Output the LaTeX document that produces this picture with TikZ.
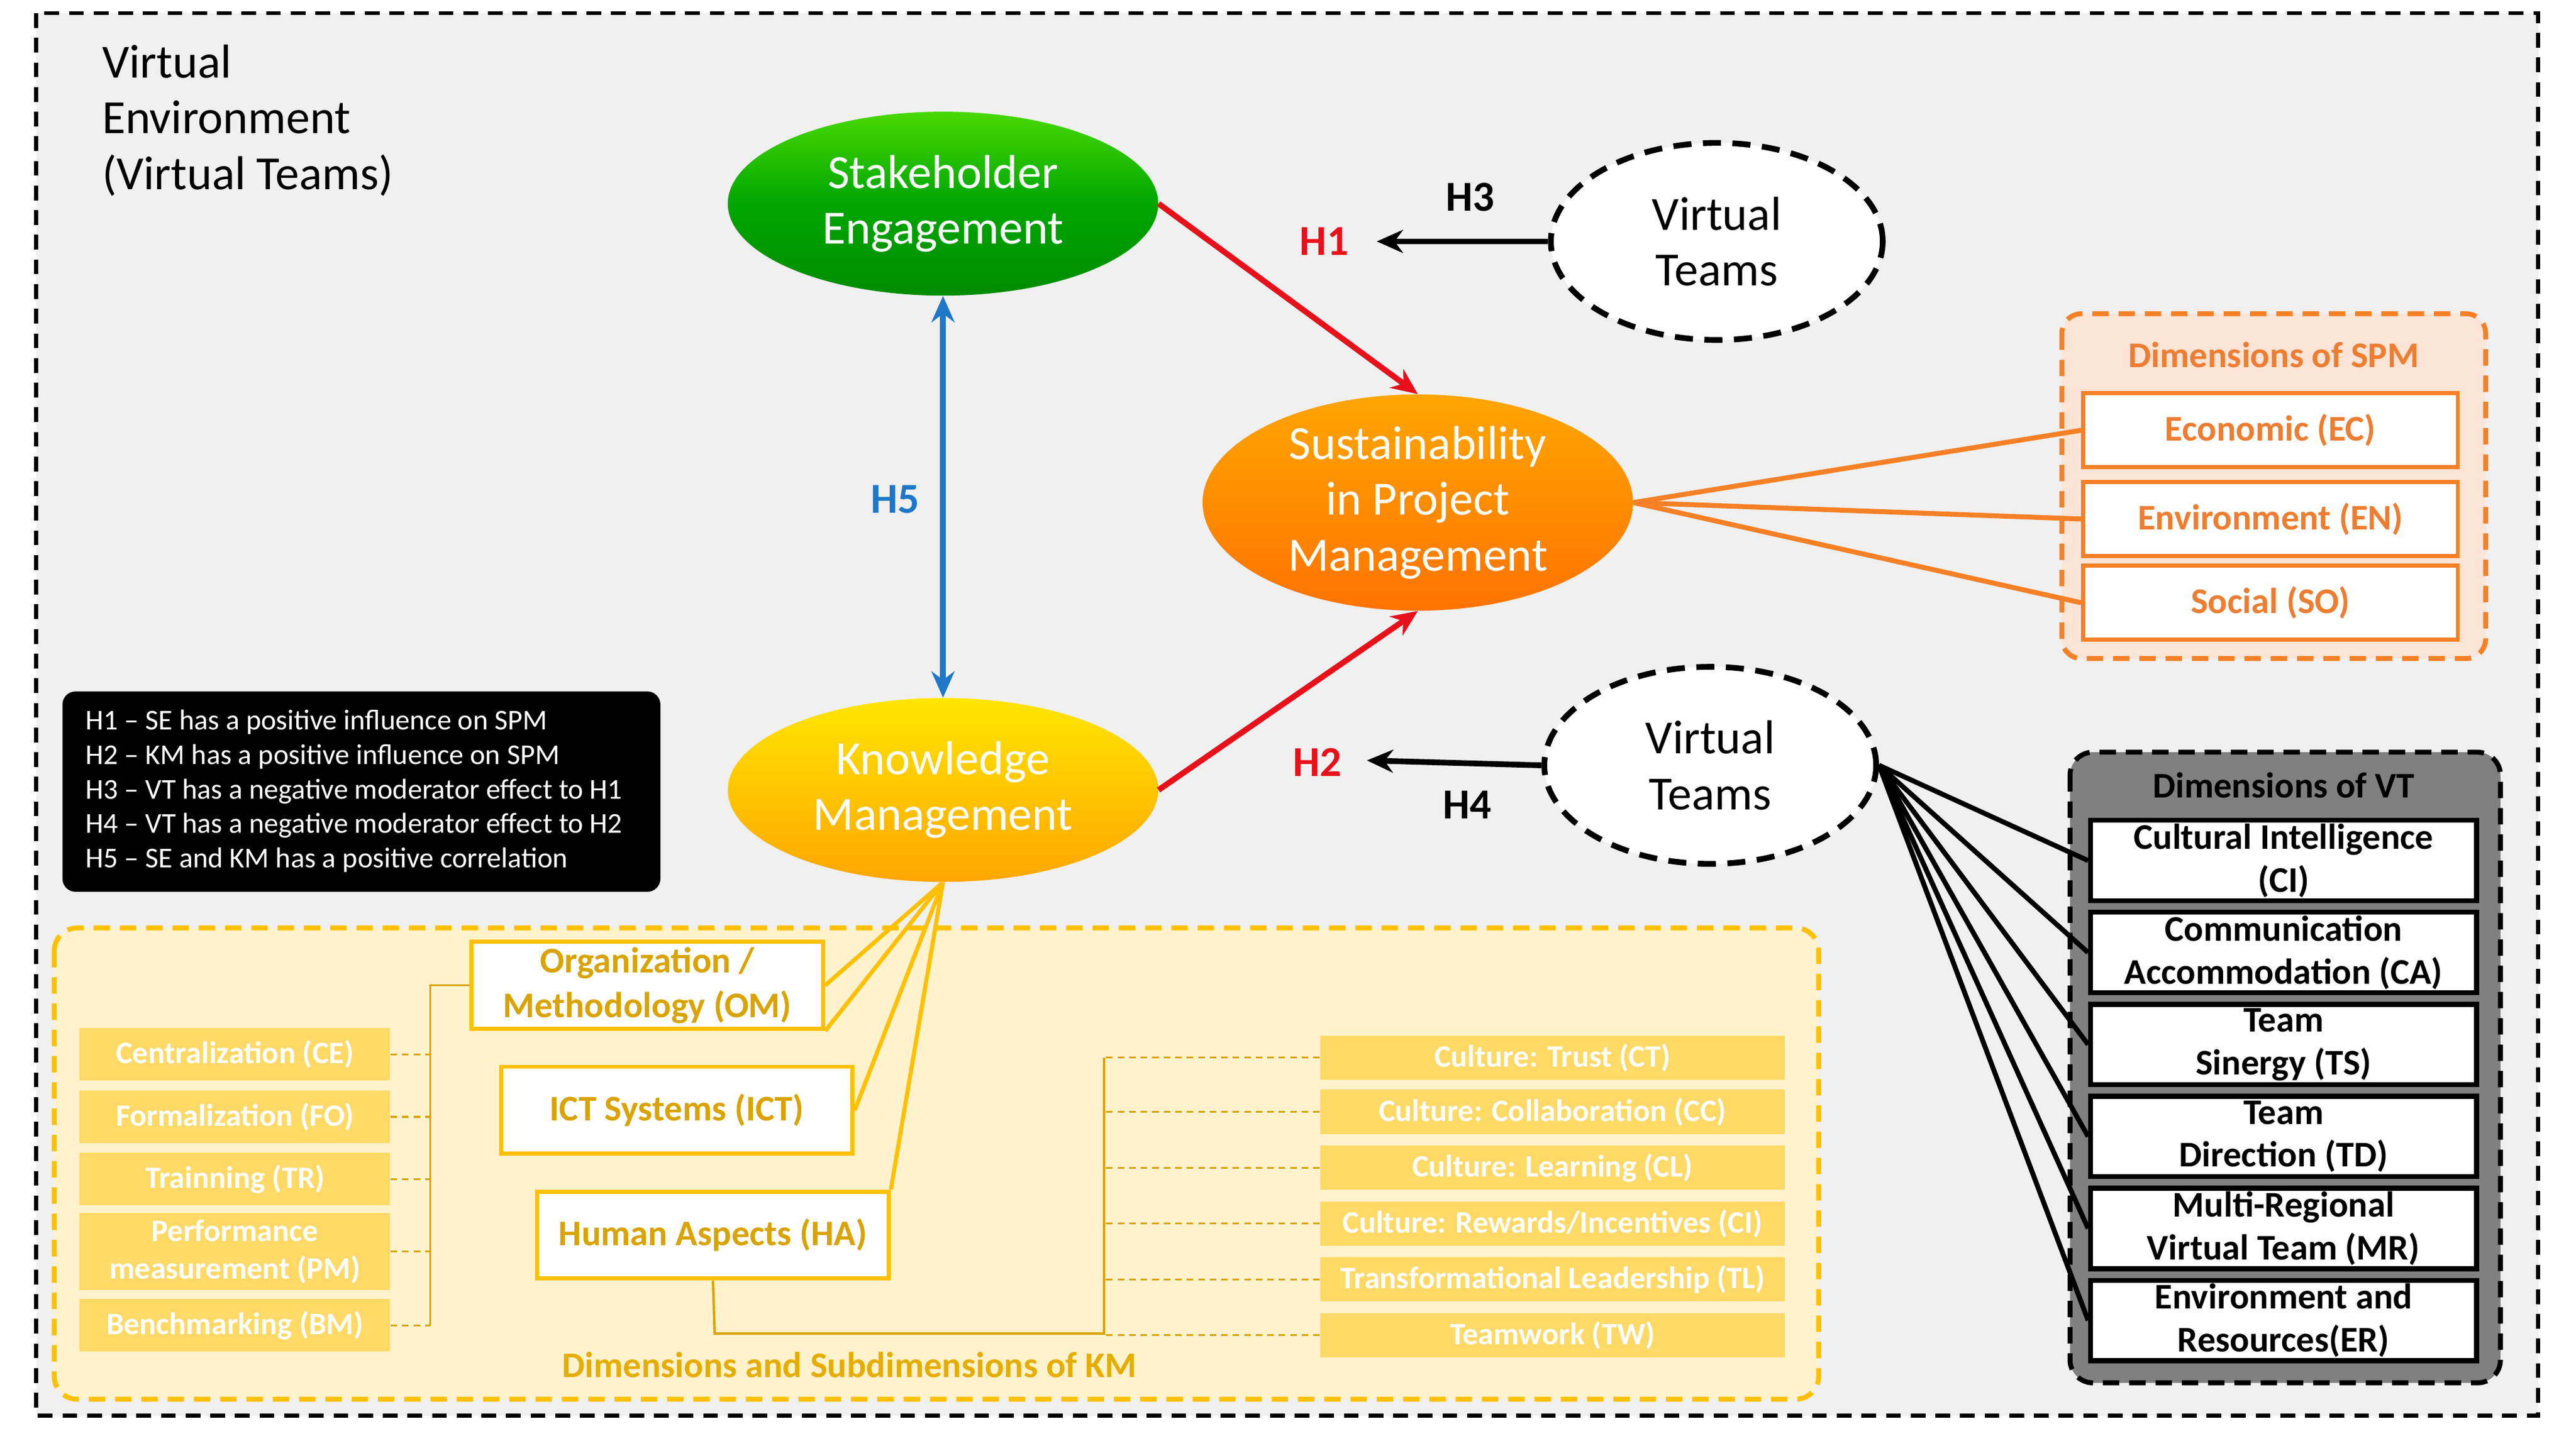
\documentclass[tikz,border=0pt]{standalone}
\usepackage{fontspec}
\setmainfont{Carlito}
\usetikzlibrary{shapes.geometric,arrows.meta}
\definecolor{gold}{HTML}{FFC000}
\definecolor{lyel}{HTML}{FFF2CC}
\definecolor{subd}{HTML}{FFD966}
\definecolor{org}{HTML}{F58025}
\definecolor{orgt}{HTML}{ED7D31}
\definecolor{peach}{HTML}{FCE4D6}
\definecolor{hred}{HTML}{E8101A}
\definecolor{hblue}{HTML}{1F77C8}
\tikzset{
 x=1pt,y=-1pt,
 ell/.style={ellipse,minimum width=262pt,minimum height=112pt,text=white,align=center,font=\fontsize{29}{34}\selectfont,inner sep=0pt},
 vt/.style={ellipse,draw,line width=3.5pt,dash pattern=on 11pt off 7pt,fill=white,minimum width=202pt,minimum height=120pt,align=center,font=\fontsize{29}{34}\selectfont,inner sep=0pt},
 hyp/.style={font=\fontsize{26}{28}\selectfont\bfseries},
 spmb/.style={draw=org,line width=2.5pt,fill=white,minimum width=228pt,minimum height=45pt,text=orgt,font=\fontsize{22}{24}\selectfont\bfseries},
 vtb/.style={draw=black,line width=3pt,fill=white,minimum width=235pt,minimum height=49pt,align=center,font=\fontsize{22}{26}\selectfont\bfseries,inner sep=0pt},
 kmb/.style={draw=gold,line width=2.5pt,fill=white,minimum width=214pt,minimum height=53pt,align=center,text=gold!85!black,font=\fontsize{22}{27}\selectfont\bfseries,inner sep=0pt},
 sdl/.style={fill=subd,minimum width=189pt,minimum height=32pt,align=center,text=white,font=\fontsize{19}{23}\selectfont\bfseries,inner sep=0pt},
 sdr/.style={fill=subd,minimum width=283pt,minimum height=27pt,text=white,font=\fontsize{19}{21}\selectfont\bfseries,inner sep=0pt},
 gl/.style={draw=gold,line width=2.5pt},
 gd/.style={draw=gold!85!black,line width=1.2pt,dash pattern=on 4pt off 3pt},
 conn/.style={line width=3.5pt},
 grp/.style={line width=3pt,dash pattern=on 10pt off 6pt,rounded corners=14pt},
}
\begin{document}
\begin{tikzpicture}
\useasboundingbox (0,0) rectangle (1568,877.4);
\fill[white] (0,0) rectangle (1568,877.4);
\draw[fill=black!6,line width=2.5pt,dash pattern=on 9pt off 6pt] (22,8) rectangle (1545,862);
\node[anchor=north west,align=left,font=\fontsize{29}{34}\selectfont,inner sep=0pt] (ve) at (62,27) {Virtual\\Environment\\(Virtual Teams)};

% KM dims box
\draw[grp,draw=gold,fill=lyel] (33,565) rectangle (1107,852);
\node[text=gold!90!black,font=\fontsize{22}{24}\selectfont\bfseries] (kmt) at (517,831) {Dimensions and Subdimensions of KM};
% SPM dims
\draw[grp,draw=org,fill=peach,rounded corners=12pt] (1255,191) rectangle (1513,401);
\node[text=orgt,font=\fontsize{22}{24}\selectfont\bfseries] (spmt) at (1384,216) {Dimensions of SPM};
% VT dims
\draw[grp,draw=black,fill=black!50] (1260,458) rectangle (1522,842);
\node[font=\fontsize{22}{24}\selectfont\bfseries] (vtt) at (1390,478) {Dimensions of VT};

% ellipses
\node[ell,top color=green!55!lime!85!black,bottom color=green!55!black,middle color=green!65!black] (se) at (574,124) {Stakeholder\\Engagement};
\node[ell,top color=orange!70!yellow,bottom color=orange!90!red] (spm) at (863,306) {Sustainability\\in Project\\Management};
\node[ell,top color=yellow!80!orange,bottom color=orange!70!yellow] (km) at (574,481) {Knowledge\\Management};
\node[vt] (vt1) at (1045,147) {Virtual\\Teams};
\node[vt] (vt2) at (1041,466) {Virtual\\Teams};

\coordinate (h3e) at (838,147);
\coordinate (h4e) at (832,463);
\draw[conn,hred,-{Stealth[length=16pt,width=14pt]}] (se.east) -- (spm.north);
\draw[conn,hred,-{Stealth[length=16pt,width=14pt]}] (km.east) -- (spm.south);
\draw[conn,-{Stealth[length=16pt,width=14pt]}] (vt1.west) -- (h3e);
\draw[conn,-{Stealth[length=16pt,width=14pt]}] (vt2.west) -- (h4e);
\draw[conn,hblue,{Stealth[length=16pt,width=14pt]}-{Stealth[length=16pt,width=14pt]}] (se.south) -- (km.north);
\node[hyp,text=hred] (h1) at (806,147) {H1};
\node[hyp] (h3) at (895,120) {H3};
\node[hyp,text=hred] (h2) at (802,464) {H2};
\node[hyp] (h4) at (893,490) {H4};
\node[hyp,text=hblue] (h5) at (545,304) {H5};

% legend
\fill[black,rounded corners=8pt] (38,421) rectangle (402,543);
\node[text=white,align=left,anchor=north west,font=\fontsize{17.5}{21}\selectfont,inner sep=0pt] (leg) at (52,432) {H1 -- SE has a positive influence on SPM\\H2 -- KM has a positive influence on SPM\\H3 -- VT has a negative moderator effect to H1\\H4 -- VT has a negative moderator effect to H2\\H5 -- SE and KM has a positive correlation};

% SPM boxes
\node[spmb] (ec) at (1382,262) {Economic (EC)};
\node[spmb] (en) at (1382,316) {Environment (EN)};
\node[spmb] (so) at (1382,367) {Social (SO)};
\foreach \b in {ec,en,so} \draw[org,line width=3pt] (spm.east) -- (\b.west);

% VT boxes
\node[vtb] (ci) at (1390,524) {Cultural Intelligence\\(CI)};
\node[vtb] (ca) at (1390,580) {Communication\\Accommodation (CA)};
\node[vtb] (ts) at (1390,636) {Team\\Sinergy (TS)};
\node[vtb] (td) at (1390,692) {Team\\Direction (TD)};
\node[vtb] (mr) at (1390,748) {Multi-Regional\\Virtual Team (MR)};
\node[vtb] (er) at (1390,804) {Environment and\\Resources(ER)};
\foreach \b in {ci,ca,ts,td,mr,er} \draw[line width=3pt] (vt2.east) -- (\b.west);

% KM boxes
\node[kmb] (om) at (394,600) {Organization /\\Methodology (OM)};
\node[kmb] (ict) at (412,676) {ICT Systems (ICT)};
\node[kmb] (ha) at (434,752) {Human Aspects (HA)};
\draw[gl] (km.south) -- (om.east);
\draw[gl] (km.south) -- (om.south east);
\draw[gl] (km.south) -- (ict.east);
\draw[gl] (km.south) -- (ha.north east);

% left subdims
\node[sdl] (ce) at (143,642) {Centralization (CE)};
\node[sdl] (fo) at (143,680) {Formalization (FO)};
\node[sdl] (tr) at (143,718) {Trainning (TR)};
\node[sdl,minimum height=47pt] (pm) at (143,762) {Performance\\measurement (PM)};
\node[sdl] (bm) at (143,807) {Benchmarking  (BM)};
\coordinate (lj1) at (262,600);
\coordinate (lj2) at (262,807);
\draw[draw=gold!85!black,line width=1.2pt] (om.west) -- (lj1) -- (lj2);
\foreach \b in {ce,fo,tr,pm,bm} \draw[gd] (\b.east) -- (\b.east -| lj1);

% right subdims
\node[sdr] (ct) at (945,644) {Culture: Trust (CT)};
\node[sdr] (cc) at (945,677) {Culture: Collaboration (CC)};
\node[sdr] (cl) at (945,711) {Culture: Learning (CL)};
\node[sdr] (cri) at (945,745) {Culture: Rewards/Incentives (CI)};
\node[sdr] (tl) at (945,779) {Transformational Leadership (TL)};
\node[sdr] (tw) at (945,813) {Teamwork (TW)};
\coordinate (rj0) at (435,812);
\coordinate (rj1) at (672,812);
\coordinate (rj2) at (672,644);
\draw[draw=gold!85!black,line width=1.5pt] (ha.south) -- (rj0) -- (rj1) -- (rj2);
\foreach \b in {ct,cc,cl,cri,tl,tw} \draw[gd] (\b.west) -- (\b.west -| rj1);
\end{tikzpicture}
\end{document}
